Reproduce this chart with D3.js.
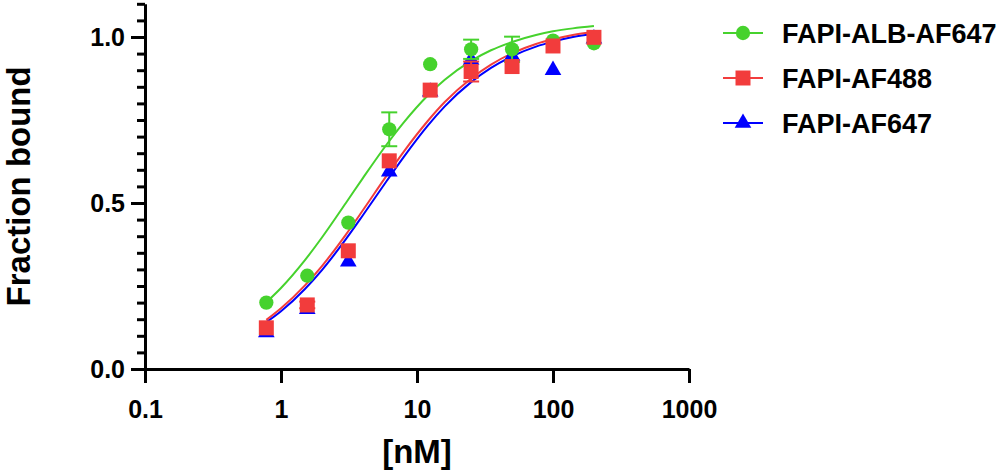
<!DOCTYPE html>
<html>
<head>
<meta charset="utf-8">
<script src="https://cdn.jsdelivr.net/npm/d3@7"></script>
<style>
	body { margin: 0; background: #fff; }
	svg text { font-family: "Liberation Sans", Arial, sans-serif; font-weight: bold; fill: #000; }
</style>
</head>
<body>
<div id="chart"></div>
<script>
// binding data (2-fold dilution series, nM)
var concentrations = [0.78, 1.56, 3.125, 6.25, 12.5, 25, 50, 100, 200];

var seriesNames = ["FAPI-ALB-AF647", "FAPI-AF488", "FAPI-AF647"];
var seriesColors = ["#46d22d", "#f23c3c", "#0000ff"];
var seriesSymbols = ["circle", "square", "triangle"];

var albValues = [0.200, 0.281, 0.441, 0.722, 0.918, 0.963, 0.963, 0.989, 0.981];
var albErrors = [0, 0, 0, 0.051, 0, 0.029, 0.038, 0, 0];
var af488Values = [0.124, 0.193, 0.356, 0.627, 0.840, 0.896, 0.911, 0.973, 0.999];
var af488Errors = [0, 0.01, 0, 0, 0, 0.03, 0, 0, 0];
var af647Values = [0.110, 0.180, 0.323, 0.594, 0.835, 0.931, 0.943, 0.900, 0.995];
var af647Errors = [0, 0, 0, 0, 0, 0, 0, 0, 0];

// fitted curves
var fitX = [0.78, 1, 1.5, 2, 3, 4, 6, 8, 12, 16, 25, 35, 50, 75, 100, 140, 200];
var albFit = [0.201, 0.244, 0.328, 0.396, 0.500, 0.575, 0.677, 0.743, 0.824, 0.871, 0.928, 0.960, 0.985, 1.006, 1.017, 1.026, 1.033];
var af488Fit = [0.148, 0.183, 0.252, 0.310, 0.405, 0.478, 0.583, 0.655, 0.747, 0.804, 0.875, 0.917, 0.951, 0.979, 0.993, 1.006, 1.016];
var af647Fit = [0.141, 0.174, 0.241, 0.298, 0.391, 0.463, 0.567, 0.639, 0.733, 0.791, 0.864, 0.907, 0.942, 0.971, 0.986, 1.000, 1.010];

var xTicks = [0.1, 1, 10, 100, 1000];
var xTickLabels = ["0.1", "1", "10", "100", "1000"];
var yTicks = [0, 0.5, 1.0];
var yTickLabels = ["0.0", "0.5", "1.0"];
var yMinorTicks = [0.05, 0.1, 0.15, 0.2, 0.25, 0.3, 0.35, 0.4, 0.45, 0.55, 0.6, 0.65, 0.7, 0.75, 0.8, 0.85, 0.9, 0.95, 1.05, 1.1];

var series = [
	{name: seriesNames[0], values: albValues, errors: albErrors, fit: albFit, color: seriesColors[0], symbol: seriesSymbols[0]},
	{name: seriesNames[1], values: af488Values, errors: af488Errors, fit: af488Fit, color: seriesColors[1], symbol: seriesSymbols[1]},
	{name: seriesNames[2], values: af647Values, errors: af647Errors, fit: af647Fit, color: seriesColors[2], symbol: seriesSymbols[2]}
];

var width = 1000,
	height = 474;

var x = d3.scaleLog().domain([0.1, 1000]).range([145, 689]);
var y = d3.scaleLinear().domain([0, 1.1]).range([369, 3.8]);

var svg = d3.select("#chart").append("svg")
	.attr("width", width)
	.attr("height", height);

function symbolPath(kind, size) {
	var t = kind == "circle" ? d3.symbolCircle : (kind == "square" ? d3.symbolSquare : d3.symbolTriangle);
	return d3.symbol().type(t).size(size)();
}
var symbolSizes = {circle: 160, square: 225, triangle: 120};

// axes
var xAxis = svg.append("g")
	.attr("transform", "translate(0," + y(0) + ")")
	.call(d3.axisBottom(x).tickValues(xTicks).tickSize(14).tickSizeOuter(0)
		.tickFormat(function(d, i) { return xTickLabels[i]; }));
xAxis.selectAll("text").attr("dy", "1.28em").style("font-size", "25px");

var yMinor = svg.append("g")
	.attr("transform", "translate(" + x(0.1) + ",0)")
	.call(d3.axisLeft(y).tickValues(yMinorTicks).tickSize(8).tickSizeOuter(0).tickFormat(""));
yMinor.select(".domain").remove();

var yAxis = svg.append("g")
	.attr("transform", "translate(" + x(0.1) + ",0)")
	.call(d3.axisLeft(y).tickValues(yTicks).tickSize(14).tickSizeOuter(0)
		.tickFormat(function(d, i) { return yTickLabels[i]; }));
yAxis.selectAll("text").attr("x", -20).style("font-size", "25px");

svg.selectAll(".domain, .tick line")
	.attr("stroke", "#000")
	.attr("stroke-width", 3);
svg.selectAll(".tick text").attr("fill", "#000");

svg.append("text")
	.attr("transform", "translate(30," + y(0.55) + ") rotate(-90)")
	.attr("text-anchor", "middle")
	.style("font-size", "33px")
	.text("Fraction bound");

svg.append("text")
	.attr("x", x(10))
	.attr("y", 463)
	.attr("text-anchor", "middle")
	.style("font-size", "33px")
	.text("[nM]");

// fit lines
var line = d3.line()
	.x(function(d) { return x(d[0]); })
	.y(function(d) { return y(d[1]); })
	.curve(d3.curveMonotoneX);

var drawOrder = [2, 0, 1];

drawOrder.forEach(function(k) {
	var s = series[k];
	svg.append("path")
		.datum(fitX.map(function(v, i) { return [v, s.fit[i]]; }))
		.attr("fill", "none")
		.attr("stroke", s.color)
		.attr("stroke-width", 2)
		.attr("d", line);
});

// error bars + points
drawOrder.forEach(function(k) {
	var s = series[k];
	var g = svg.append("g");
	concentrations.forEach(function(c, i) {
		var err = s.errors[i];
		if (err > 0) {
			var cx = x(c);
			g.append("line").attr("x1", cx).attr("x2", cx)
				.attr("y1", y(s.values[i] - err)).attr("y2", y(s.values[i] + err));
			[s.values[i] - err, s.values[i] + err].forEach(function(v) {
				g.append("line").attr("x1", cx - 8).attr("x2", cx + 8)
					.attr("y1", y(v)).attr("y2", y(v));
			});
		}
	});
	g.selectAll("line").attr("stroke", s.color).attr("stroke-width", 2);

	g.selectAll("path")
		.data(concentrations)
		.enter().append("path")
		.attr("d", symbolPath(s.symbol, symbolSizes[s.symbol]))
		.attr("transform", function(d, i) { return "translate(" + x(d) + "," + y(s.values[i]) + ")"; })
		.attr("fill", s.color);
});

// legend
var legend = svg.append("g").attr("transform", "translate(723,33)");
series.forEach(function(s, i) {
	var row = legend.append("g").attr("transform", "translate(0," + i * 45 + ")");
	row.append("line")
		.attr("x1", 0).attr("x2", 40)
		.attr("stroke", s.color)
		.attr("stroke-width", 2);
	row.append("path")
		.attr("d", symbolPath(s.symbol, symbolSizes[s.symbol]))
		.attr("transform", "translate(20,0)")
		.attr("fill", s.color);
	row.append("text")
		.attr("x", 59)
		.attr("dy", "0.36em")
		.style("font-size", "27px")
		.text(s.name);
});
</script>
</body>
</html>
